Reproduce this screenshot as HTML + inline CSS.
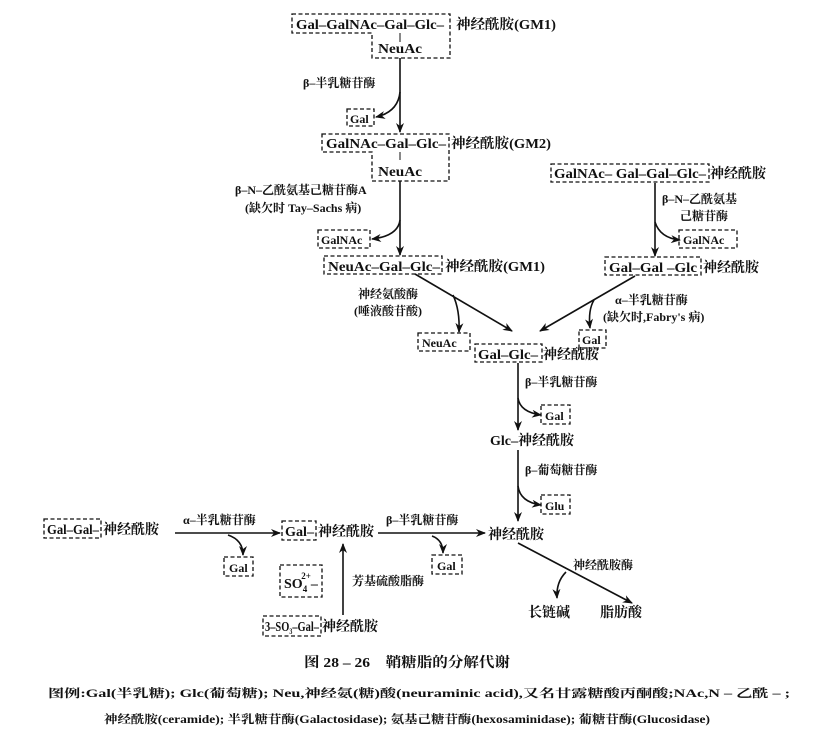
<!DOCTYPE html>
<html><head><meta charset="utf-8"><style>
body{margin:0;background:#fff}
svg{display:block}
text{font-family:"Liberation Serif","Noto Serif CJK SC",serif;font-size:14px;fill:#111;font-weight:bold}
.s{font-size:12px}
.n{font-weight:normal}
.b{fill:none;stroke:#111;stroke-width:1.3;stroke-dasharray:4,2.5}
.l{fill:none;stroke:#111;stroke-width:1.6}
</style></head><body>
<svg width="826" height="753" viewBox="0 0 826 753">
<defs><marker id="a" markerWidth="10" markerHeight="8" refX="9" refY="4" orient="auto" markerUnits="userSpaceOnUse"><path d="M0,0L10,4L0,8L3,4z" fill="#111"/></marker></defs>

<!-- GM1 top -->
<path class="b" d="M292,14H450V58H372V33H292Z"/>
<text x="296" y="29" textLength="148" lengthAdjust="spacingAndGlyphs">Gal–GalNAc–Gal–Glc–</text>
<text x="456" y="29" textLength="100" lengthAdjust="spacingAndGlyphs">神经酰胺(GM1)</text>
<line class="l" x1="400" y1="33" x2="400" y2="42" style="stroke-width:1"/>
<text x="378" y="53" textLength="44" lengthAdjust="spacingAndGlyphs">NeuAc</text>
<line class="l" x1="400" y1="58" x2="400" y2="132" marker-end="url(#a)"/>
<text x="303" y="87" class="s">β–半乳糖苷酶</text>
<path class="l" d="M400,92Q398,112 376,117" marker-end="url(#a)"/>
<rect class="b" x="347" y="109" width="27" height="17"/>
<text x="350" y="123" class="s">Gal</text>

<!-- GM2 -->
<path class="b" d="M322,134H449V181H372V152H322Z"/>
<text x="326" y="148" textLength="120" lengthAdjust="spacingAndGlyphs">GalNAc–Gal–Glc–</text>
<text x="451" y="148" textLength="100" lengthAdjust="spacingAndGlyphs">神经酰胺(GM2)</text>
<line class="l" x1="400" y1="152" x2="400" y2="160" style="stroke-width:1"/>
<text x="378" y="176" textLength="44" lengthAdjust="spacingAndGlyphs">NeuAc</text>
<text x="235" y="194" class="s">β–N–乙酰氨基己糖苷酶A</text>
<text x="245" y="212" class="s">(缺欠时 Tay–Sachs 病)</text>
<line class="l" x1="400" y1="181" x2="400" y2="255" marker-end="url(#a)"/>
<path class="l" d="M400,220Q398,236 372,239" marker-end="url(#a)"/>
<rect class="b" x="318" y="230" width="52" height="18"/>
<text x="321" y="244" class="s">GalNAc</text>

<!-- GM1' -->
<rect class="b" x="324" y="256" width="118" height="18"/>
<text x="328" y="271" textLength="112" lengthAdjust="spacingAndGlyphs">NeuAc–Gal–Glc–</text>
<text x="445" y="271" textLength="100" lengthAdjust="spacingAndGlyphs">神经酰胺(GM1)</text>

<!-- right branch -->
<rect class="b" x="551" y="164" width="158" height="18"/>
<text x="554" y="178" textLength="152" lengthAdjust="spacingAndGlyphs">GalNAc– Gal–Gal–Glc–</text>
<text x="710" y="178">神经酰胺</text>
<line class="l" x1="655" y1="183" x2="655" y2="256" marker-end="url(#a)"/>
<text x="662" y="203" class="s">β–N–乙酰氨基</text>
<text x="680" y="220" class="s">己糖苷酶</text>
<path class="l" d="M655,222Q660,238 680,240" marker-end="url(#a)"/>
<rect class="b" x="679" y="230" width="58" height="18"/>
<text x="683" y="244" class="s">GalNAc</text>
<rect class="b" x="605" y="257" width="96" height="18"/>
<text x="609" y="272" textLength="88" lengthAdjust="spacingAndGlyphs">Gal–Gal –Glc</text>
<text x="703" y="272">神经酰胺</text>

<!-- converge -->
<line class="l" x1="415" y1="274" x2="512" y2="331" marker-end="url(#a)"/>
<line class="l" x1="635" y1="276" x2="540" y2="331" marker-end="url(#a)"/>
<text x="358" y="298" class="s">神经氨酸酶</text>
<text x="354" y="315" class="s">(唾液酸苷酸)</text>
<path class="l" d="M453,295Q460,310 459,332" marker-end="url(#a)"/>
<rect class="b" x="418" y="333" width="52" height="18"/>
<text x="422" y="347" class="s">NeuAc</text>
<text x="615" y="304" class="s">α–半乳糖苷酶</text>
<text x="603" y="321" class="s">(缺欠时,Fabry's 病)</text>
<path class="l" d="M594,300Q588,310 590,328" marker-end="url(#a)"/>
<rect class="b" x="579" y="330" width="27" height="18"/>
<text x="582" y="344" class="s">Gal</text>
<rect class="b" x="475" y="344" width="67" height="18"/>
<text x="478" y="359" textLength="60" lengthAdjust="spacingAndGlyphs">Gal–Glc–</text>
<text x="543" y="359">神经酰胺</text>

<!-- down column -->
<line class="l" x1="518" y1="363" x2="518" y2="430" marker-end="url(#a)"/>
<text x="525" y="386" class="s">β–半乳糖苷酶</text>
<path class="l" d="M518,398Q520,412 541,415" marker-end="url(#a)"/>
<rect class="b" x="541" y="405" width="29" height="19"/>
<text x="545" y="420" class="s">Gal</text>
<text x="490" y="445">Glc–神经酰胺</text>
<line class="l" x1="518" y1="450" x2="518" y2="521" marker-end="url(#a)"/>
<text x="525" y="474" class="s">β–葡萄糖苷酶</text>
<path class="l" d="M518,486Q520,502 541,505" marker-end="url(#a)"/>
<rect class="b" x="541" y="495" width="29" height="19"/>
<text x="545" y="510" class="s">Glu</text>
<text x="488" y="539">神经酰胺</text>
<line class="l" x1="518" y1="543" x2="632" y2="603" marker-end="url(#a)"/>
<text x="573" y="569" class="s">神经酰胺酶</text>
<path class="l" d="M566,572Q556,582 557,598" marker-end="url(#a)"/>
<text x="528" y="617">长链碱</text>
<text x="600" y="617">脂肪酸</text>

<!-- bottom row -->
<rect class="b" x="44" y="519" width="57" height="19"/>
<text x="47" y="534" textLength="52" lengthAdjust="spacingAndGlyphs">Gal–Gal–</text>
<text x="103" y="534">神经酰胺</text>
<line class="l" x1="175" y1="533" x2="280" y2="533" marker-end="url(#a)"/>
<text x="183" y="524" class="s">α–半乳糖苷酶</text>
<path class="l" d="M228,535Q243,540 243,555" marker-end="url(#a)"/>
<rect class="b" x="224" y="557" width="29" height="19"/>
<text x="229" y="572" class="s">Gal</text>
<rect class="b" x="282" y="521" width="34" height="19"/>
<text x="285" y="536" textLength="29" lengthAdjust="spacingAndGlyphs">Gal–</text>
<text x="318" y="536">神经酰胺</text>
<line class="l" x1="378" y1="533" x2="485" y2="533" marker-end="url(#a)"/>
<text x="386" y="524" class="s">β–半乳糖苷酶</text>
<path class="l" d="M432,536Q443,540 443,553" marker-end="url(#a)"/>
<rect class="b" x="432" y="555" width="30" height="19"/>
<text x="437" y="570" class="s">Gal</text>
<line class="l" x1="343" y1="615" x2="343" y2="544" marker-end="url(#a)"/>
<rect class="b" x="280" y="565" width="42" height="32"/>
<text x="284" y="588">SO<tspan font-size="9" dy="4">4</tspan><tspan font-size="9" dx="-6" dy="-13">2+</tspan><tspan dy="9">–</tspan></text>
<text x="352" y="585" class="s">芳基硫酸脂酶</text>
<rect class="b" x="263" y="616" width="58" height="20"/>
<text x="265" y="631" font-size="13" textLength="54" lengthAdjust="spacingAndGlyphs">3–SO<tspan font-size="8" dy="3">3</tspan><tspan dy="-3">–Gal–</tspan></text>
<text x="322" y="631">神经酰胺</text>

<!-- caption -->
<text x="304" y="667" textLength="206" lengthAdjust="spacingAndGlyphs">图 28 – 26　鞘糖脂的分解代谢</text>
<text x="48" y="697" class="s" style="font-size:11.5px" textLength="742" lengthAdjust="spacingAndGlyphs">图例:Gal(半乳糖); Glc(葡萄糖); Neu,神经氨(糖)酸(neuraminic acid),又名甘露糖酸丙酮酸;NAc,N – 乙酰 – ;</text>
<text x="104" y="723" class="s" style="font-size:11.5px" textLength="606" lengthAdjust="spacingAndGlyphs">神经酰胺(ceramide); 半乳糖苷酶(Galactosidase); 氨基己糖苷酶(hexosaminidase); 葡糖苷酶(Glucosidase)</text>
</svg>
</body></html>
